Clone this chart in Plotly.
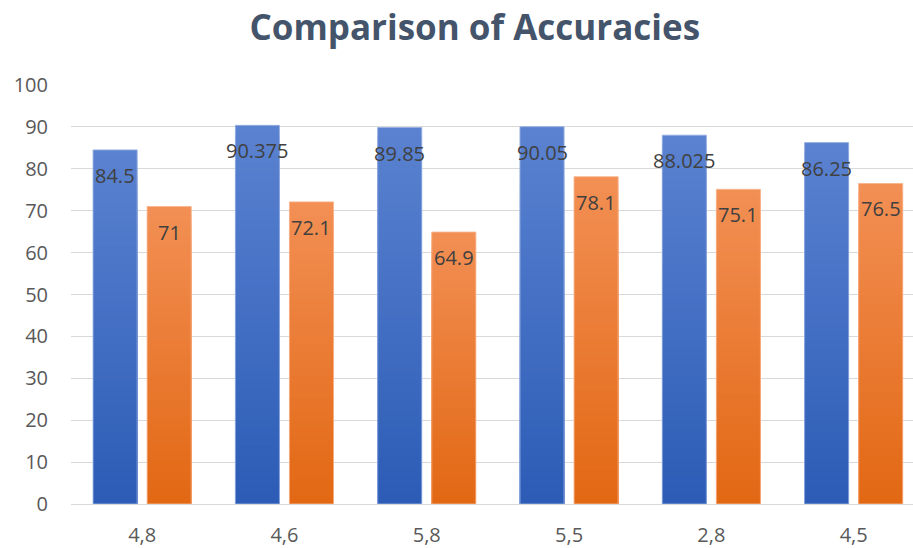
import plotly.graph_objects as go

# Chart data
categories = ["4,8", "4,6", "5,8", "5,5", "2,8", "4,5"]
series_a = [84.5, 90.375, 89.85, 90.05, 88.025, 86.25]
series_b = [71, 72.1, 64.9, 78.1, 75.1, 76.5]
labels_a = ["84.5", "90.375", "89.85", "90.05", "88.025", "86.25"]
labels_b = ["71", "72.1", "64.9", "78.1", "75.1", "76.5"]

# Vertical gradient end colours (top, bottom) for each series
grad_a = ((90, 130, 208), (44, 92, 182))
grad_b = ((242, 143, 84), (226, 104, 20))
edge_a = "rgba(150,175,225,0.9)"
edge_b = "rgba(248,180,140,0.9)"

N_STEPS = 40


def mix(c1, c2, t):
    return "rgb(%d,%d,%d)" % tuple(round(a + (b - a) * t) for a, b in zip(c1, c2))


fig = go.Figure()


def add_gradient_bars(values, grad, group, edge):
    # Overlaid bars of shrinking height: the tallest carries the top colour,
    # each shorter one paints the lower part darker, giving a vertical gradient.
    for k in range(N_STEPS):
        frac = (N_STEPS - k) / N_STEPS
        fig.add_trace(go.Bar(
            x=categories,
            y=[v * frac for v in values],
            offsetgroup=group,
            marker=dict(color=mix(grad[0], grad[1], k / (N_STEPS - 1)), line=dict(width=0)),
            hoverinfo="skip",
            showlegend=False,
        ))
    # thin light outline over the full bar
    fig.add_trace(go.Bar(
        x=categories,
        y=values,
        offsetgroup=group,
        marker=dict(color="rgba(0,0,0,0)", line=dict(color=edge, width=1)),
        showlegend=False,
    ))


add_gradient_bars(series_a, grad_a, "a", edge_a)
add_gradient_bars(series_b, grad_b, "b", edge_b)

# Data labels just inside the top of each bar
label_font = dict(size=20, color="#404040")
annotations = []
for cat, v, t in zip(categories, series_a, labels_a):
    annotations.append(dict(x=cat, y=v, text=t, xshift=-27, yshift=-10, yanchor="top",
                            showarrow=False, font=label_font))
for cat, v, t in zip(categories, series_b, labels_b):
    annotations.append(dict(x=cat, y=v, text=t, xshift=27, yshift=-10, yanchor="top",
                            showarrow=False, font=label_font))

fig.update_layout(
    width=913,
    height=548,
    margin=dict(l=71, r=0, t=85, b=41),
    paper_bgcolor="white",
    plot_bgcolor="white",
    barmode="group",
    bargap=0.24,
    bargroupgap=0.185,
    font=dict(family="Open Sans, Noto Sans, sans-serif", color="#595959"),
    title=dict(
        text="<b>Comparison of Accuracies</b>",
        x=0.52, xanchor="center",
        y=1 - 28 / 548, yanchor="middle",
        font=dict(size=35, color="#44546A", family="Open Sans, Noto Sans, sans-serif"),
    ),
    annotations=annotations,
    showlegend=False,
)

fig.update_xaxes(
    type="category",
    range=[-0.5, 5.417],
    showgrid=False,
    showline=True, linecolor="#D9D9D9", linewidth=1,
    ticks="",
    tickfont=dict(size=20, color="#595959"),
    ticklabelstandoff=13,
)
fig.update_yaxes(
    range=[0, 100],
    dtick=10,
    showgrid=True, gridcolor="#D9D9D9", gridwidth=1,
    zeroline=False,
    showline=False,
    ticks="",
    tickfont=dict(size=20, color="#595959"),
    ticklabelstandoff=22,
)

fig.write_html("out.html")
